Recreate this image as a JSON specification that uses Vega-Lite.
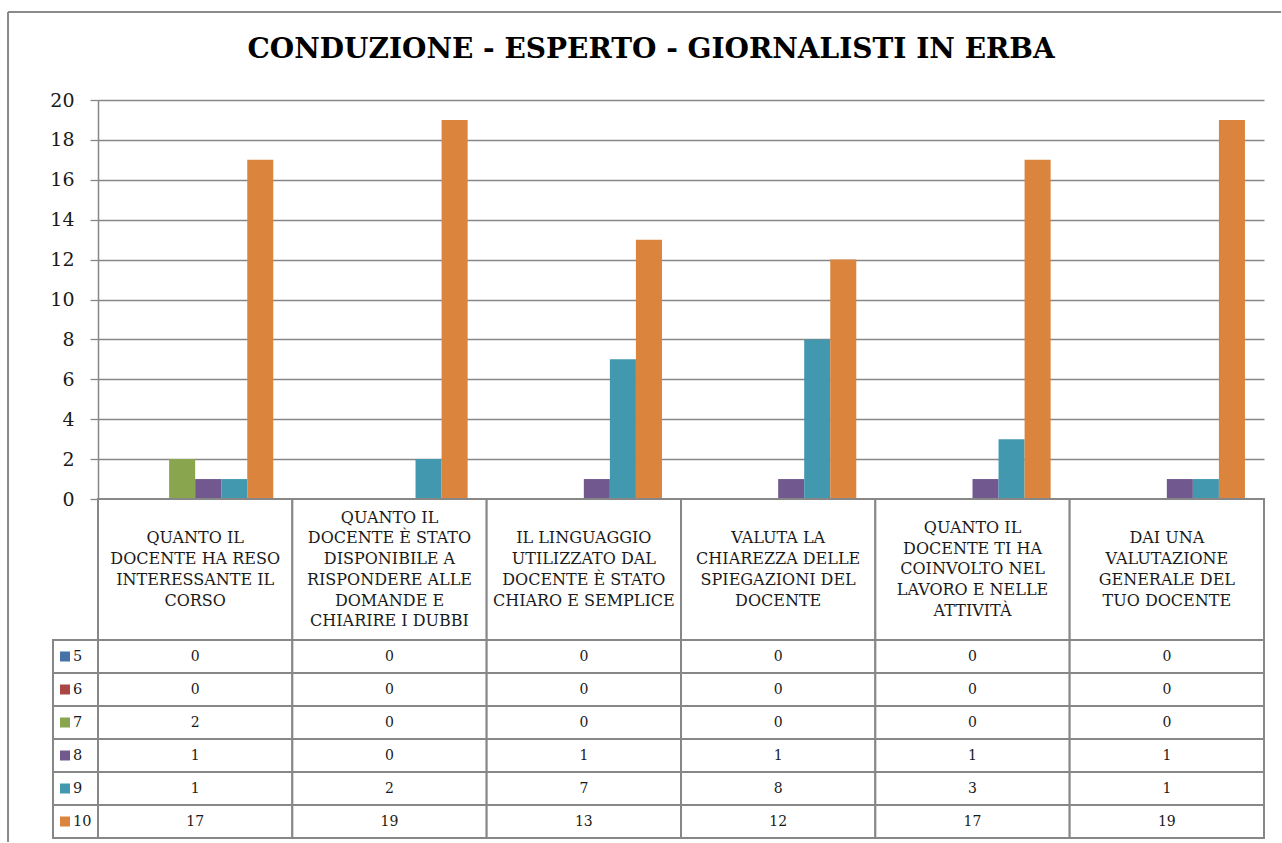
{
  "$schema": "https://vega.github.io/schema/vega-lite/v6.json",
  "background": "white",
  "padding": {"left": 7, "top": 11, "right": 0, "bottom": 0},
  "autosize": {"type": "pad"},
  "bounds": "flush",
  "spacing": 0,
  "config": {"view": {"stroke": null}, "font": "DejaVu Serif"},
  "datasets": {
    "questions": [
      {"question": "QUANTO IL DOCENTE HA RESO INTERESSANTE IL CORSO", "label": "QUANTO IL\nDOCENTE HA RESO\nINTERESSANTE IL\nCORSO"},
      {"question": "QUANTO IL DOCENTE È STATO DISPONIBILE A RISPONDERE ALLE DOMANDE E CHIARIRE I DUBBI", "label": "QUANTO IL\nDOCENTE  È STATO\nDISPONIBILE A\nRISPONDERE ALLE\nDOMANDE E\nCHIARIRE I DUBBI"},
      {"question": "IL LINGUAGGIO UTILIZZATO DAL DOCENTE È STATO CHIARO E SEMPLICE", "label": "IL LINGUAGGIO\nUTILIZZATO DAL\nDOCENTE  È STATO\nCHIARO E SEMPLICE"},
      {"question": "VALUTA LA CHIAREZZA DELLE SPIEGAZIONI DEL DOCENTE", "label": "VALUTA LA\nCHIAREZZA DELLE\nSPIEGAZIONI  DEL\nDOCENTE"},
      {"question": "QUANTO IL DOCENTE TI HA COINVOLTO NEL LAVORO E NELLE ATTIVITÀ", "label": "QUANTO IL\nDOCENTE  TI HA\nCOINVOLTO NEL\nLAVORO E NELLE\nATTIVITÀ"},
      {"question": "DAI UNA VALUTAZIONE GENERALE DEL TUO DOCENTE", "label": "DAI UNA\nVALUTAZIONE\nGENERALE DEL\nTUO DOCENTE"}
    ],
    "grades": [
      {"grade": "5"}, {"grade": "6"}, {"grade": "7"}, {"grade": "8"}, {"grade": "9"}, {"grade": "10"}
    ],
    "titleRow": [
      {"title": "CONDUZIONE - ESPERTO  - GIORNALISTI IN ERBA"}
    ],
    "scores": [
      {"question": "QUANTO IL DOCENTE HA RESO INTERESSANTE IL CORSO", "grade": "5", "count": 0},
      {"question": "QUANTO IL DOCENTE HA RESO INTERESSANTE IL CORSO", "grade": "6", "count": 0},
      {"question": "QUANTO IL DOCENTE HA RESO INTERESSANTE IL CORSO", "grade": "7", "count": 2},
      {"question": "QUANTO IL DOCENTE HA RESO INTERESSANTE IL CORSO", "grade": "8", "count": 1},
      {"question": "QUANTO IL DOCENTE HA RESO INTERESSANTE IL CORSO", "grade": "9", "count": 1},
      {"question": "QUANTO IL DOCENTE HA RESO INTERESSANTE IL CORSO", "grade": "10", "count": 17},
      {"question": "QUANTO IL DOCENTE È STATO DISPONIBILE A RISPONDERE ALLE DOMANDE E CHIARIRE I DUBBI", "grade": "5", "count": 0},
      {"question": "QUANTO IL DOCENTE È STATO DISPONIBILE A RISPONDERE ALLE DOMANDE E CHIARIRE I DUBBI", "grade": "6", "count": 0},
      {"question": "QUANTO IL DOCENTE È STATO DISPONIBILE A RISPONDERE ALLE DOMANDE E CHIARIRE I DUBBI", "grade": "7", "count": 0},
      {"question": "QUANTO IL DOCENTE È STATO DISPONIBILE A RISPONDERE ALLE DOMANDE E CHIARIRE I DUBBI", "grade": "8", "count": 0},
      {"question": "QUANTO IL DOCENTE È STATO DISPONIBILE A RISPONDERE ALLE DOMANDE E CHIARIRE I DUBBI", "grade": "9", "count": 2},
      {"question": "QUANTO IL DOCENTE È STATO DISPONIBILE A RISPONDERE ALLE DOMANDE E CHIARIRE I DUBBI", "grade": "10", "count": 19},
      {"question": "IL LINGUAGGIO UTILIZZATO DAL DOCENTE È STATO CHIARO E SEMPLICE", "grade": "5", "count": 0},
      {"question": "IL LINGUAGGIO UTILIZZATO DAL DOCENTE È STATO CHIARO E SEMPLICE", "grade": "6", "count": 0},
      {"question": "IL LINGUAGGIO UTILIZZATO DAL DOCENTE È STATO CHIARO E SEMPLICE", "grade": "7", "count": 0},
      {"question": "IL LINGUAGGIO UTILIZZATO DAL DOCENTE È STATO CHIARO E SEMPLICE", "grade": "8", "count": 1},
      {"question": "IL LINGUAGGIO UTILIZZATO DAL DOCENTE È STATO CHIARO E SEMPLICE", "grade": "9", "count": 7},
      {"question": "IL LINGUAGGIO UTILIZZATO DAL DOCENTE È STATO CHIARO E SEMPLICE", "grade": "10", "count": 13},
      {"question": "VALUTA LA CHIAREZZA DELLE SPIEGAZIONI DEL DOCENTE", "grade": "5", "count": 0},
      {"question": "VALUTA LA CHIAREZZA DELLE SPIEGAZIONI DEL DOCENTE", "grade": "6", "count": 0},
      {"question": "VALUTA LA CHIAREZZA DELLE SPIEGAZIONI DEL DOCENTE", "grade": "7", "count": 0},
      {"question": "VALUTA LA CHIAREZZA DELLE SPIEGAZIONI DEL DOCENTE", "grade": "8", "count": 1},
      {"question": "VALUTA LA CHIAREZZA DELLE SPIEGAZIONI DEL DOCENTE", "grade": "9", "count": 8},
      {"question": "VALUTA LA CHIAREZZA DELLE SPIEGAZIONI DEL DOCENTE", "grade": "10", "count": 12},
      {"question": "QUANTO IL DOCENTE TI HA COINVOLTO NEL LAVORO E NELLE ATTIVITÀ", "grade": "5", "count": 0},
      {"question": "QUANTO IL DOCENTE TI HA COINVOLTO NEL LAVORO E NELLE ATTIVITÀ", "grade": "6", "count": 0},
      {"question": "QUANTO IL DOCENTE TI HA COINVOLTO NEL LAVORO E NELLE ATTIVITÀ", "grade": "7", "count": 0},
      {"question": "QUANTO IL DOCENTE TI HA COINVOLTO NEL LAVORO E NELLE ATTIVITÀ", "grade": "8", "count": 1},
      {"question": "QUANTO IL DOCENTE TI HA COINVOLTO NEL LAVORO E NELLE ATTIVITÀ", "grade": "9", "count": 3},
      {"question": "QUANTO IL DOCENTE TI HA COINVOLTO NEL LAVORO E NELLE ATTIVITÀ", "grade": "10", "count": 17},
      {"question": "DAI UNA VALUTAZIONE GENERALE DEL TUO DOCENTE", "grade": "5", "count": 0},
      {"question": "DAI UNA VALUTAZIONE GENERALE DEL TUO DOCENTE", "grade": "6", "count": 0},
      {"question": "DAI UNA VALUTAZIONE GENERALE DEL TUO DOCENTE", "grade": "7", "count": 0},
      {"question": "DAI UNA VALUTAZIONE GENERALE DEL TUO DOCENTE", "grade": "8", "count": 1},
      {"question": "DAI UNA VALUTAZIONE GENERALE DEL TUO DOCENTE", "grade": "9", "count": 1},
      {"question": "DAI UNA VALUTAZIONE GENERALE DEL TUO DOCENTE", "grade": "10", "count": 19}
    ]
  },
  "vconcat": [
    {
      "width": 1166,
      "height": 399,
      "layer": [
        {
          "data": {"name": "scores"},
          "mark": {"type": "bar"},
          "encoding": {
            "x": {"field": "question", "type": "nominal", "axis": null,
                  "scale": {"domain": ["QUANTO IL DOCENTE HA RESO INTERESSANTE IL CORSO", "QUANTO IL DOCENTE È STATO DISPONIBILE A RISPONDERE ALLE DOMANDE E CHIARIRE I DUBBI", "IL LINGUAGGIO UTILIZZATO DAL DOCENTE È STATO CHIARO E SEMPLICE", "VALUTA LA CHIAREZZA DELLE SPIEGAZIONI DEL DOCENTE", "QUANTO IL DOCENTE TI HA COINVOLTO NEL LAVORO E NELLE ATTIVITÀ", "DAI UNA VALUTAZIONE GENERALE DEL TUO DOCENTE"], "paddingInner": 0.196, "paddingOuter": 0.098}},
            "xOffset": {"field": "grade", "type": "nominal", "scale": {"domain": ["5", "6", "7", "8", "9", "10"], "paddingInner": 0, "paddingOuter": 0}},
            "y": {"field": "count", "type": "quantitative",
                  "scale": {"domain": [0, 20], "nice": false, "zero": true},
                  "axis": {"title": null, "values": [0, 2, 4, 6, 8, 10, 12, 14, 16, 18, 20], "grid": true, "gridColor": "#878787", "gridWidth": 1.3, "domainColor": "#878787", "domainWidth": 1.5, "tickColor": "#878787", "tickWidth": 1.3, "tickSize": 8, "labelFont": "DejaVu Serif", "labelFontSize": 19, "labelColor": "#1a1a1a", "labelPadding": 16}},
            "color": {"field": "grade", "type": "nominal", "legend": null,
                      "scale": {"domain": ["5", "6", "7", "8", "9", "10"], "range": ["#4572A7", "#AA4643", "#89A54E", "#71588F", "#4198AF", "#DB843D"]}}
          }
        },
        {
          "data": {"name": "titleRow"},
          "layer": [
            {
              "mark": {"type": "rule", "color": "#8a8a8a", "strokeWidth": 2, "clip": false},
              "encoding": {
                "x": {"datum": -0.463, "type": "quantitative", "scale": {"domain": [0, 6], "nice": false, "zero": false}, "axis": null},
                "y": {"datum": 24.41, "type": "quantitative", "scale": {"domain": [0, 20], "nice": false}, "axis": null},
                "y2": {"datum": -17.19}
              }
            },
            {
              "mark": {"type": "rule", "color": "#8a8a8a", "strokeWidth": 2, "clip": false},
              "encoding": {
                "x": {"datum": -0.463, "type": "quantitative"},
                "x2": {"datum": 6.088},
                "y": {"datum": 24.41, "type": "quantitative"}
              }
            },
            {
              "mark": {"type": "text", "font": "DejaVu Serif", "fontWeight": "bold", "fontSize": 28, "color": "#000000", "align": "center", "baseline": "alphabetic", "clip": false},
              "encoding": {
                "x": {"datum": 2.846, "type": "quantitative"},
                "y": {"datum": 22.1, "type": "quantitative"},
                "text": {"field": "title"}
              }
            }
          ]
        }
      ],
      "resolve": {"scale": {"x": "independent", "y": "independent"}}
    },
    {
      "width": 1166,
      "height": 141,
      "data": {"name": "questions"},
      "transform": [
        {"calculate": "(length(split(datum.label, '\\n')) - 1) / 2", "as": "lift"}
      ],
      "layer": [
        {
          "mark": {"type": "rect", "fill": "white", "stroke": "#878787", "strokeWidth": 2},
          "encoding": {
            "x": {"field": "question", "type": "nominal", "axis": null,
                  "scale": {"domain": ["QUANTO IL DOCENTE HA RESO INTERESSANTE IL CORSO", "QUANTO IL DOCENTE È STATO DISPONIBILE A RISPONDERE ALLE DOMANDE E CHIARIRE I DUBBI", "IL LINGUAGGIO UTILIZZATO DAL DOCENTE È STATO CHIARO E SEMPLICE", "VALUTA LA CHIAREZZA DELLE SPIEGAZIONI DEL DOCENTE", "QUANTO IL DOCENTE TI HA COINVOLTO NEL LAVORO E NELLE ATTIVITÀ", "DAI UNA VALUTAZIONE GENERALE DEL TUO DOCENTE"], "paddingInner": 0, "paddingOuter": 0}}
          }
        },
        {
          "mark": {"type": "text", "lineBreak": "\n", "lineHeight": 20.7, "fontSize": 16, "font": "DejaVu Serif", "color": "#1a1a1a", "align": "center", "baseline": "middle"},
          "encoding": {
            "x": {"field": "question", "type": "nominal", "axis": null},
            "y": {"field": "lift", "type": "quantitative", "axis": null, "scale": {"domain": [-3.406, 3.406], "nice": false, "zero": false}},
            "text": {"field": "label"}
          }
        }
      ]
    },
    {
      "width": 1166,
      "height": 198,
      "layer": [
        {
          "data": {"name": "scores"},
          "mark": {"type": "rect", "fill": "white", "stroke": "#878787", "strokeWidth": 2},
          "encoding": {
            "x": {"field": "question", "type": "nominal", "axis": null,
                  "scale": {"domain": ["QUANTO IL DOCENTE HA RESO INTERESSANTE IL CORSO", "QUANTO IL DOCENTE È STATO DISPONIBILE A RISPONDERE ALLE DOMANDE E CHIARIRE I DUBBI", "IL LINGUAGGIO UTILIZZATO DAL DOCENTE È STATO CHIARO E SEMPLICE", "VALUTA LA CHIAREZZA DELLE SPIEGAZIONI DEL DOCENTE", "QUANTO IL DOCENTE TI HA COINVOLTO NEL LAVORO E NELLE ATTIVITÀ", "DAI UNA VALUTAZIONE GENERALE DEL TUO DOCENTE"], "paddingInner": 0, "paddingOuter": 0}},
            "y": {"field": "grade", "type": "nominal", "axis": null,
                  "scale": {"domain": ["5", "6", "7", "8", "9", "10"], "paddingInner": 0, "paddingOuter": 0}}
          }
        },
        {
          "data": {"name": "scores"},
          "mark": {"type": "text", "fontSize": 14, "font": "DejaVu Serif", "color": "#1a1a1a", "align": "center", "baseline": "middle"},
          "encoding": {
            "x": {"field": "question", "type": "nominal", "axis": null,
                  "scale": {"domain": ["QUANTO IL DOCENTE HA RESO INTERESSANTE IL CORSO", "QUANTO IL DOCENTE È STATO DISPONIBILE A RISPONDERE ALLE DOMANDE E CHIARIRE I DUBBI", "IL LINGUAGGIO UTILIZZATO DAL DOCENTE È STATO CHIARO E SEMPLICE", "VALUTA LA CHIAREZZA DELLE SPIEGAZIONI DEL DOCENTE", "QUANTO IL DOCENTE TI HA COINVOLTO NEL LAVORO E NELLE ATTIVITÀ", "DAI UNA VALUTAZIONE GENERALE DEL TUO DOCENTE"], "paddingInner": 0, "paddingOuter": 0}},
            "y": {"field": "grade", "type": "nominal", "axis": null},
            "text": {"field": "count"}
          }
        },
        {
          "data": {"name": "grades"},
          "mark": {"type": "rect", "fill": "white", "stroke": "#878787", "strokeWidth": 2, "clip": false},
          "encoding": {
            "x": {"datum": -0.2316, "type": "quantitative", "scale": {"domain": [0, 6], "nice": false, "zero": false}, "axis": null},
            "x2": {"datum": 0},
            "y": {"field": "grade", "type": "nominal", "axis": null}
          }
        },
        {
          "data": {"name": "grades"},
          "mark": {"type": "square", "size": 100, "opacity": 1, "clip": false},
          "encoding": {
            "x": {"datum": -0.1698, "type": "quantitative", "scale": {"domain": [0, 6], "nice": false, "zero": false}, "axis": null},
            "y": {"field": "grade", "type": "nominal", "axis": null},
            "color": {"field": "grade", "type": "nominal", "legend": null,
                      "scale": {"domain": ["5", "6", "7", "8", "9", "10"], "range": ["#4572A7", "#AA4643", "#89A54E", "#71588F", "#4198AF", "#DB843D"]}}
          }
        },
        {
          "data": {"name": "grades"},
          "mark": {"type": "text", "fontSize": 14.5, "font": "DejaVu Serif", "color": "#1a1a1a", "align": "left", "baseline": "middle", "clip": false},
          "encoding": {
            "x": {"datum": -0.1287, "type": "quantitative", "scale": {"domain": [0, 6], "nice": false, "zero": false}, "axis": null},
            "y": {"field": "grade", "type": "nominal", "axis": null},
            "text": {"field": "grade"}
          }
        }
      ],
      "resolve": {"scale": {"x": "independent"}}
    }
  ]
}
